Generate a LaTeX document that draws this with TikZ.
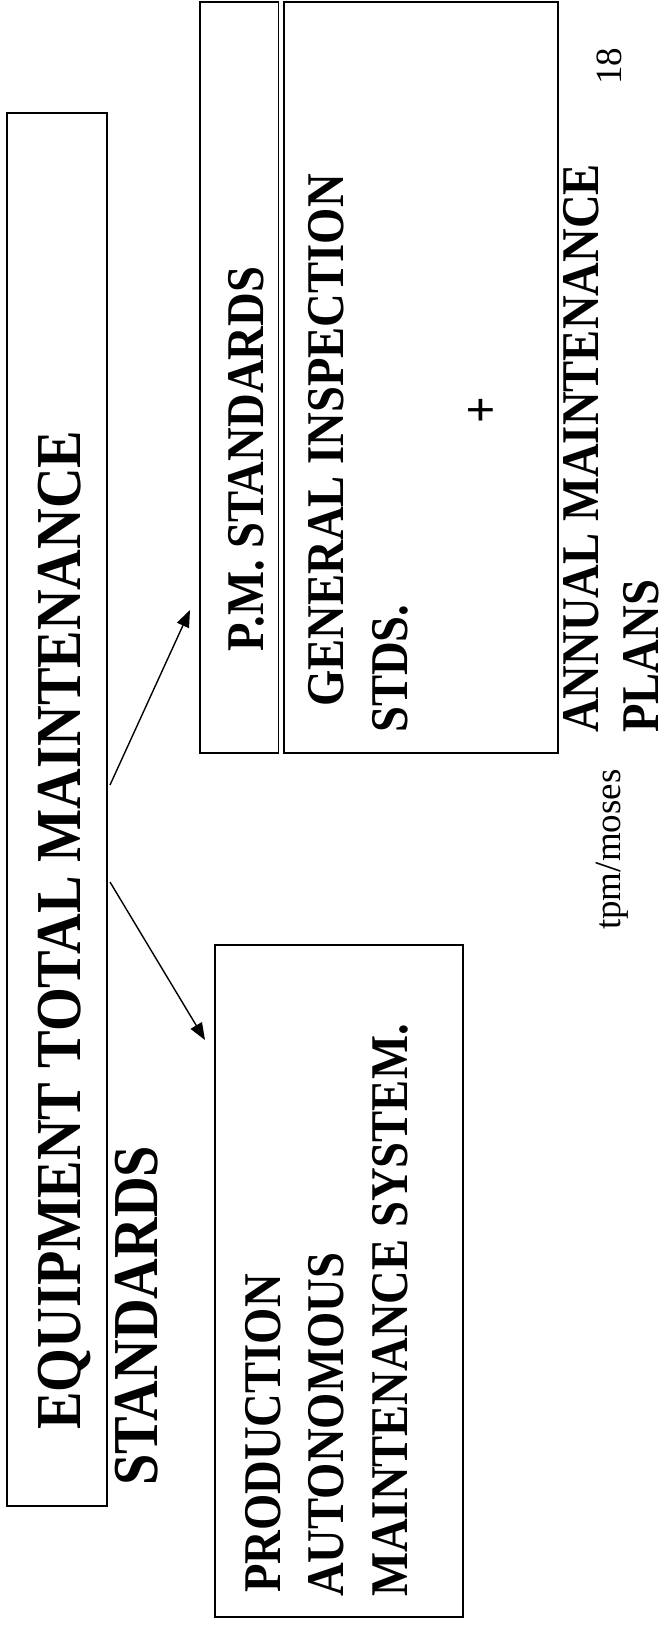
\documentclass[tikz,border=0pt]{standalone}
\usepackage{fontspec}
\setmainfont{Liberation Serif}
\newfontfamily\capsfont[FakeStretch=0.88]{Liberation Serif}
\usepackage{tikz}
\usetikzlibrary{arrows.meta}
\tikzstyle{boxLine} = [draw, rectangle, line width=1.6pt, inner sep=0pt]
\tikzstyle{bigText} = [rotate=90, anchor=base west, inner sep=0pt,
   font=\capsfont\fontsize{64}{66}\selectfont\bfseries]
\tikzstyle{subText} = [rotate=90, anchor=base west, inner sep=0pt,
   font=\capsfont\fontsize{53}{56}\selectfont\bfseries]
\tikzstyle{pageText} = [rotate=90, anchor=base west, inner sep=0pt,
   font=\fontsize{37}{40}\selectfont]
\tikzstyle{linkArrow} = [line width=1.4pt, -{Triangle[length=17pt,width=13pt]}]
\tikzstyle{dblLine} = [line width=1.3pt, double, double distance=4.5pt]

\begin{document}
\begin{tikzpicture}[x=1pt, y=-1pt]
  \useasboundingbox (0,0) rectangle (665,1625);

  % boxes
  \node[boxLine, minimum width=100pt, minimum height=1393pt] (etm) at (57,809.5) {};
  \node[boxLine, minimum width=358pt, minimum height=751pt] (pm) at (379,377.5) {};
  \node[boxLine, minimum width=248pt, minimum height=672pt] (prod) at (339,1281) {};
  \draw[dblLine] ([xshift=82pt]pm.north west) -- ([xshift=82pt]pm.south west);

  % title, spills over the box
  \node[bigText] (etm1) at (80,1430) {EQUIPMENT TOTAL MAINTENANCE};
  \node[bigText] (etm2) at (157,1486) {STANDARDS};

  % P.M. side
  \node[subText] (pm1) at (263,652) {P.M. STANDARDS};
  \node[subText] (pm2) at (343,707) {GENERAL INSPECTION};
  \node[subText] (pm3) at (407,733) {STDS.};
  \node[subText, anchor=center] (plus) at (484,410) {+};
  \node[subText] (pm4) at (598,733) {ANNUAL MAINTENANCE};
  \node[subText] (pm5) at (658,733) {PLANS};

  % production side
  \node[subText] (prod1) at (280,1593) {PRODUCTION};
  \node[subText] (prod2) at (343,1597) {AUTONOMOUS};
  \node[subText] (prod3) at (407,1597) {MAINTENANCE SYSTEM.};

  % footer
  \node[pageText] (num) at (621,85) {18};
  \node[pageText] (who) at (620,930) {tpm/moses};

  % arrows
  \coordinate (up0) at (110,785);
  \coordinate (up1) at (190,610);
  \coordinate (dn0) at (110,882);
  \coordinate (dn1) at (205,1040);
  \draw[linkArrow] (up0) -- (up1);
  \draw[linkArrow] (dn0) -- (dn1);
\end{tikzpicture}
\end{document}
